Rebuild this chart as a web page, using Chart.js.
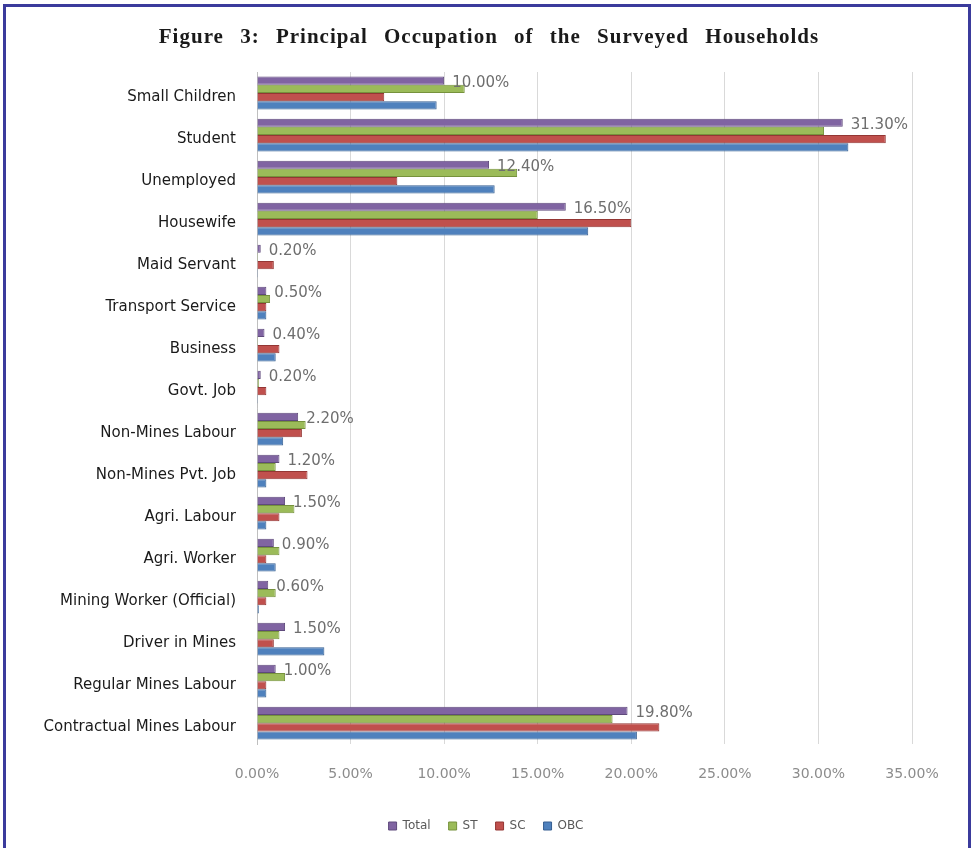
<!DOCTYPE html>
<html>
<head>
<meta charset="utf-8">
<title>Principal Occupation of the Surveyed Households</title>
<script src="https://cdn.jsdelivr.net/npm/chart.js@4.4.1/dist/chart.umd.min.js"></script>
<style>
  html, body { margin: 0; padding: 0; background: #fff; }
  #wrap { position: relative; width: 972px; height: 848px; overflow: hidden; }
  #frame {
    position: absolute; left: 3px; top: 4px; width: 962px; height: 900px;
    border: 3px solid #3b3b9c; pointer-events: none;
  }
  #title {
    position: absolute; left: 3px; top: 24px; width: 972px; text-align: center;
    font: bold 21px "Liberation Serif", "DejaVu Serif", serif; color: #1a1a1a;
    letter-spacing: 1px; word-spacing: 10px;
  }
  canvas { position: absolute; left: 0; top: 0; }
</style>
</head>
<body>
<div id="wrap">
  <canvas id="occChart" width="972" height="848"></canvas>
  <div id="title">Figure 3: Principal Occupation of the Surveyed Households</div>
  <div id="frame"></div>
</div>
<script>
const categories = [
  'Small Children', 'Student', 'Unemployed', 'Housewife', 'Maid Servant',
  'Transport Service', 'Business', 'Govt. Job', 'Non-Mines Labour',
  'Non-Mines Pvt. Job', 'Agri. Labour', 'Agri. Worker', 'Mining Worker (Official)',
  'Driver in Mines', 'Regular Mines Labour', 'Contractual Mines Labour'
];

// percent of households
const total = [10.0, 31.3, 12.4, 16.5, 0.2, 0.5, 0.4, 0.2, 2.2, 1.2, 1.5, 0.9, 0.6, 1.5, 1.0, 19.8];
const st    = [11.1, 30.3, 13.9, 15.0, 0.05, 0.7, 0.05, 0.1, 2.6, 1.0, 2.0, 1.2, 1.0, 1.2, 1.5, 19.0];
const sc    = [6.8, 33.6, 7.5, 20.0, 0.9, 0.5, 1.2, 0.5, 2.4, 2.7, 1.2, 0.5, 0.5, 0.9, 0.5, 21.5];
const obc   = [9.6, 31.6, 12.7, 17.7, 0.05, 0.5, 1.0, 0.05, 1.4, 0.5, 0.5, 1.0, 0.1, 3.6, 0.5, 20.3];

const xTicks = [0, 5, 10, 15, 20, 25, 30, 35];

const totalLabels = {
  id: 'totalLabels',
  afterDatasetsDraw(chart) {
    const ctx = chart.ctx;
    const meta = chart.getDatasetMeta(0);
    ctx.save();
    ctx.font = '15px "DejaVu Sans", sans-serif';
    ctx.fillStyle = '#6e6e6e';
    ctx.textBaseline = 'middle';
    ctx.textAlign = 'left';
    meta.data.forEach((bar, i) => {
      ctx.fillText(total[i].toFixed(2) + '%', bar.x + 8, bar.y + 2);
    });
    ctx.restore();
  }
};

// centre the legend on the whole canvas, not on the padded box
const centreLegend = {
  id: 'centreLegend',
  afterLayout(chart) {
    const lg = chart.legend;
    const shift = chart.width / 2 - (lg.left + lg.right) / 2;
    lg.left += shift;
    lg.right += shift;
  }
};

const ctx = document.getElementById('occChart').getContext('2d');
new Chart(ctx, {
  type: 'bar',
  data: {
    labels: categories,
    datasets: [
      { label: 'Total', data: total, backgroundColor: '#8064a2', borderColor: '#5f4a7c' },
      { label: 'ST', data: st, backgroundColor: '#9bbb59', borderColor: '#76923c' },
      { label: 'SC', data: sc, backgroundColor: '#c0504d', borderColor: '#943634' },
      { label: 'OBC', data: obc, backgroundColor: '#4f81bd', borderColor: '#365f91' }
    ]
  },
  options: {
    indexAxis: 'y',
    responsive: false,
    animation: false,
    events: [],
    datasets: {
      bar: { categoryPercentage: 0.78, barPercentage: 1, borderWidth: 1, borderSkipped: 'left' }
    },
    layout: { padding: { top: 72, right: 60, bottom: 6, left: 0 } },
    scales: {
      x: {
        min: 0,
        max: 35,
        afterBuildTicks: (axis) => { axis.ticks = xTicks.map(v => ({ value: v })); },
        afterFit: (axis) => { axis.height -= 3; },
        grid: { color: '#d9d9d9', drawTicks: false },
        border: { display: false },
        ticks: {
          padding: 22,
          color: '#8c8c8c',
          font: { family: '"DejaVu Sans", sans-serif', size: 14 },
          callback: (v) => Number(v).toFixed(2) + '%'
        }
      },
      y: {
        afterFit: (axis) => { axis.width = 257; },
        grid: { display: false, drawTicks: false },
        border: { display: true, color: '#bfbfbf' },
        ticks: {
          padding: 21,
          labelOffset: 4,
          color: '#1a1a1a',
          font: { family: '"DejaVu Sans", sans-serif', size: 15 }
        }
      }
    },
    plugins: {
      title: { display: false },
      tooltip: { enabled: false },
      legend: {
        position: 'bottom',
        labels: {
          boxWidth: 8,
          boxHeight: 8,
          padding: 18,
          color: '#595959',
          font: { family: '"DejaVu Sans", sans-serif', size: 12 }
        }
      }
    }
  },
  plugins: [totalLabels, centreLegend]
});
</script>
</body>
</html>
